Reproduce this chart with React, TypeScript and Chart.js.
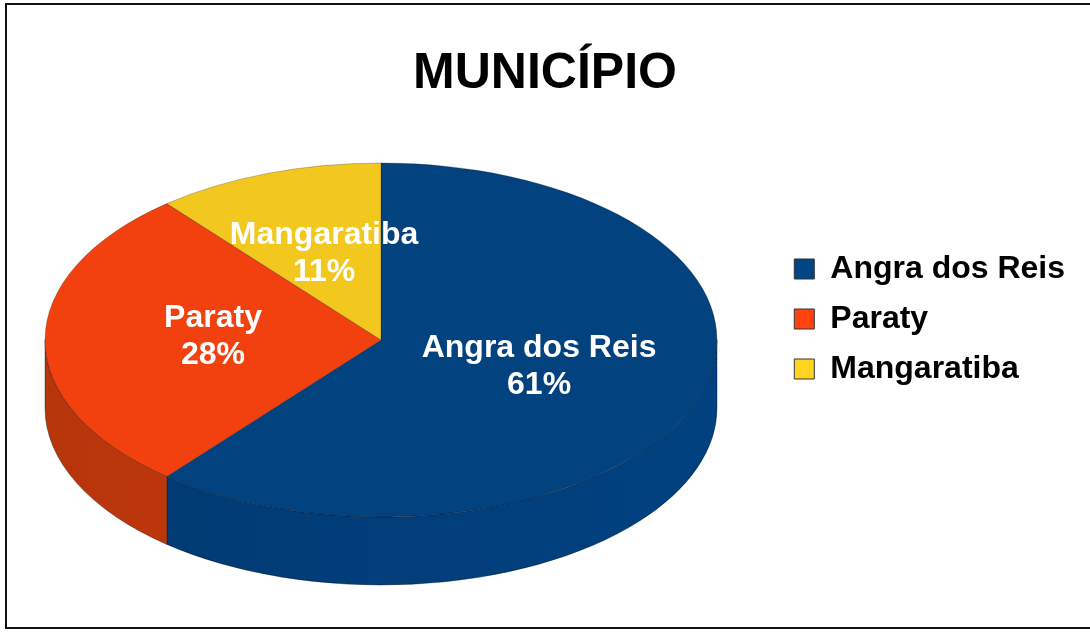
import React, { useEffect, useRef } from "react";
import { Chart, registerables } from "chart.js";

Chart.register(...registerables);

const TITLE = "MUNICÍPIO";
const categories = ["Angra dos Reis", "Paraty", "Mangaratiba"];
const values = [61, 28, 11];
const topColors = ["#02427f", "#f2400f", "#f2c81f"];
const wallColors = ["#013e7a", "#c73a0c", "#c9a318"];
const legendColors = ["#004586", "#ff420e", "#ffd320"];

const FONT = "'Liberation Sans', Arial, Helvetica, sans-serif";

// 3D projection of the pie
const CX = 381;
const CY = 340;
const RX = 336;
const RY = 177;
const DEPTH = 68;

function shade(hex: string, f: number) {
  const n = parseInt(hex.slice(1), 16);
  const r = Math.min(255, Math.round(((n >> 16) & 255) * f));
  const g = Math.min(255, Math.round(((n >> 8) & 255) * f));
  const b = Math.min(255, Math.round((n & 255) * f));
  return `rgb(${r},${g},${b})`;
}

function drawWall(ctx: CanvasRenderingContext2D, a: number, b: number, color: string) {
  ctx.save();
  ctx.beginPath();
  ctx.ellipse(CX, CY, RX, RY, 0, a, b, false);
  ctx.lineTo(CX + RX * Math.cos(b), CY + DEPTH + RY * Math.sin(b));
  ctx.ellipse(CX, CY + DEPTH, RX, RY, 0, b, a, true);
  ctx.closePath();
  const g = ctx.createLinearGradient(CX - RX, 0, CX + RX, 0);
  g.addColorStop(0, shade(color, 0.92));
  g.addColorStop(0.5, color);
  g.addColorStop(1, shade(color, 1.05));
  ctx.fillStyle = g;
  ctx.fill();
  ctx.lineWidth = 1;
  ctx.strokeStyle = "rgba(0,0,0,0.35)";
  ctx.stroke();
  ctx.restore();
}

const pie3d = {
  id: "pie3d",
  beforeDatasetsDraw(chart: any) {
    const ctx = chart.ctx as CanvasRenderingContext2D;
    const arcs = chart.getDatasetMeta(0).data as any[];
    if (!arcs.length) return;
    arcs.forEach((arc, i) => {
      const s = arc.startAngle;
      const e = arc.endAngle;
      for (const off of [-2 * Math.PI, 0, 2 * Math.PI]) {
        const lo = Math.max(s, off);
        const hi = Math.min(e, off + Math.PI);
        if (hi > lo) drawWall(ctx, lo - off, hi - off, wallColors[i]);
      }
    });
    const a0 = arcs[0];
    const r = a0.outerRadius;
    ctx.save();
    ctx.translate(CX, CY);
    ctx.scale(RX / r, RY / r);
    ctx.translate(-a0.x, -a0.y);
  },
  afterDatasetsDraw(chart: any) {
    const ctx = chart.ctx as CanvasRenderingContext2D;
    const arcs = chart.getDatasetMeta(0).data as any[];
    if (!arcs.length) return;
    ctx.restore();
    const total = values.reduce((s, v) => s + v, 0);
    ctx.save();
    ctx.font = `bold 32px ${FONT}`;
    ctx.fillStyle = "#ffffff";
    ctx.textAlign = "center";
    ctx.textBaseline = "middle";
    arcs.forEach((arc, i) => {
      const mid = (arc.startAngle + arc.endAngle) / 2;
      const x = CX + 0.5 * RX * Math.cos(mid);
      const y = CY + 0.5 * RY * Math.sin(mid) - 3;
      ctx.fillText(categories[i], x, y - 18.5);
      ctx.fillText(Math.round((values[i] / total) * 100) + "%", x, y + 18.5);
    });
    ctx.restore();
  },
};

export default function App() {
  const ref = useRef<HTMLCanvasElement | null>(null);
  useEffect(() => {
    if (!ref.current) return;
    const chart = new Chart(ref.current, {
      type: "pie",
      data: {
        labels: categories,
        datasets: [
          {
            data: values,
            backgroundColor: topColors,
            borderColor: "rgba(0,0,0,0.35)",
            borderWidth: 0.6,
            clip: false,
          } as any,
        ],
      },
      options: {
        responsive: false,
        animation: false,
        devicePixelRatio: 1,
        layout: { padding: { left: 15, right: 15, top: 6 } },
        plugins: {
          tooltip: { enabled: false },
          title: {
            display: true,
            text: TITLE,
            color: "#000000",
            font: { size: 50, weight: "bold", family: FONT },
            padding: { top: 38, bottom: 60 },
          },
          legend: {
            display: true,
            position: "right",
            align: "center",
            labels: {
              boxWidth: 20,
              boxHeight: 20,
              padding: 18,
              color: "#000000",
              font: { size: 32, weight: "bold", family: FONT },
              generateLabels: () =>
                categories.map((c, i) => ({
                  text: c,
                  fillStyle: legendColors[i],
                  strokeStyle: "#333333",
                  lineWidth: 1,
                  hidden: false,
                  index: i,
                  fontColor: "#000000",
                })),
            },
          },
        },
      } as any,
      plugins: [pie3d],
    });
    return () => chart.destroy();
  }, []);

  return (
    <div
      style={{
        position: "fixed",
        left: 0,
        top: 0,
        width: 1090,
        height: 632,
        overflow: "hidden",
        background: "#ffffff",
      }}
    >
      <div
        style={{
          position: "absolute",
          left: 5,
          top: 3,
          width: 1200,
          height: 626,
          boxSizing: "border-box",
          border: "2px solid #111",
        }}
      />
      <canvas
        ref={ref}
        width={1090}
        height={632}
        style={{ position: "absolute", left: 0, top: 0, width: 1090, height: 632 }}
      />
    </div>
  );
}
